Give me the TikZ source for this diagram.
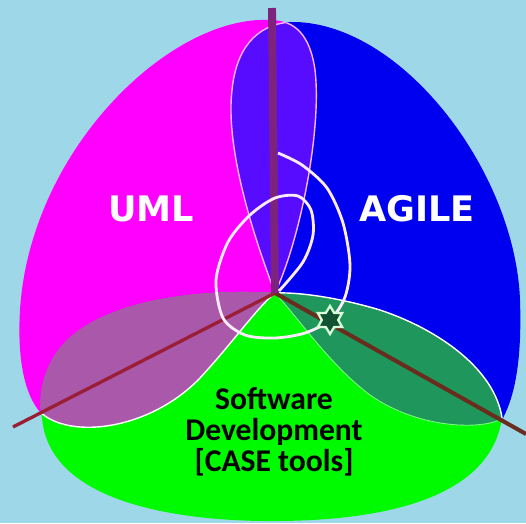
\documentclass[tikz,border=0pt]{standalone}
\usepackage{fontspec}
\newfontfamily\lobefont{DejaVu Sans}
\newfontfamily\casefont{Carlito}
\usetikzlibrary{shapes.geometric}

\definecolor{skyback}{RGB}{158,216,232}
\definecolor{umlpink}{RGB}{255,0,255}
\definecolor{agileblue}{RGB}{0,0,240}
\definecolor{casegreen}{RGB}{0,250,0}
\definecolor{umlagile}{RGB}{88,12,255}
\definecolor{umlcase}{RGB}{170,88,170}
\definecolor{agilecase}{RGB}{30,150,92}
\definecolor{axisup}{RGB}{125,35,125}
\definecolor{axisleft}{RGB}{155,30,55}
\definecolor{axisright}{RGB}{105,45,30}

% the three lobes, in pixel coordinates
\def\umllobe{(275,293) .. controls (300,240) and (322,130) .. (315,70)
    .. controls (310,35) and (295,20) .. (270,20)
    .. controls (170,15) and (30,150) .. (20,310)
    .. controls (17,360) and (25,395) .. (40,412)
    .. controls (70,440) and (150,430) .. (200,378)
    .. controls (235,340) and (255,310) .. cycle}
\def\agilelobe{(275,293) .. controls (255,240) and (225,150) .. (232,90)
    .. controls (236,50) and (255,25) .. (290,22)
    .. controls (400,20) and (515,170) .. (520,300)
    .. controls (522,360) and (515,395) .. (503,418)
    .. controls (485,430) and (420,430) .. (370,395)
    .. controls (330,365) and (300,320) .. cycle}
\def\caselobe{(275,293) .. controls (200,288) and (90,300) .. (55,355)
    .. controls (42,375) and (38,400) .. (42,418)
    .. controls (50,510) and (200,522) .. (280,521)
    .. controls (380,520) and (490,500) .. (502,418)
    .. controls (495,370) and (440,330) .. (380,310)
    .. controls (340,298) and (300,292) .. cycle}

\begin{document}
\begin{tikzpicture}[x=0.02cm, y=-0.02cm,
    lens edge/.style={white, line width=0.8pt},
    lobe label/.style={white, font=\lobefont\bfseries\fontsize{20}{24}\selectfont}]
    \fill[skyback] (0,0) rectangle (526,523);
    \useasboundingbox (0,0) rectangle (526,523);

    \fill[umlpink] \umllobe;
    \fill[agileblue] \agilelobe;
    \fill[casegreen] \caselobe;

    % overlaps
    \begin{scope}
        \clip \umllobe;
        \fill[umlagile] \agilelobe;
        \draw[lens edge, white!70!umlpink] \agilelobe;
    \end{scope}
    \begin{scope}
        \clip \agilelobe;
        \draw[lens edge, white!70!umlpink] \umllobe;
    \end{scope}
    \begin{scope}
        \clip \umllobe;
        \fill[umlcase] \caselobe;
    \end{scope}
    \begin{scope}
        \clip \caselobe;
        \draw[lens edge] \umllobe;
    \end{scope}
    \begin{scope}
        \clip \agilelobe;
        \fill[agilecase] \caselobe;
        \draw[lens edge] \caselobe;
    \end{scope}
    \begin{scope}
        \clip \caselobe;
        \draw[lens edge, white!50!casegreen, line width=0.5pt] \agilelobe;
    \end{scope}

    % axes
    \coordinate (c) at (275,293);
    \coordinate (up) at (272,8);
    \coordinate (dl) at (13,427);
    \coordinate (dr) at (526,434);
    \draw[axisleft, line width=1.9pt] (c) -- (dl);
    \draw[axisright, line width=2.3pt] (c) -- (dr);
    \draw[axisup, line width=4.5pt] (c) -- (up);

    % spiral
    \draw[white!92!umlpink, line width=1.6pt] plot[smooth] coordinates {(278,153) (302,165) (327,188) (343,223) (350,265) (345,297) (330,320) (305,333) (275,338) (245,335) (223,318) (216,280) (228,242) (250,215) (275,198) (298,196) (311,210) (313,235) (303,262) (279,291)};
    \node[star, star points=6, star point ratio=1.7, minimum size=0.56cm, inner sep=0pt,
          draw=white!85!green, line width=1.3pt, fill=black!45!agilecase] (mark) at (330,320) {};

    \node[lobe label] (uml) at (151,209) {UML};
    \node[lobe label] (agile) at (417,209) {AGILE};
    \node[align=center, font=\casefont\bfseries\fontsize{18}{17.6}\selectfont] (case) at (274,432)
        {Software\\Development\\{[CASE tools]}};
\end{tikzpicture}
\end{document}
